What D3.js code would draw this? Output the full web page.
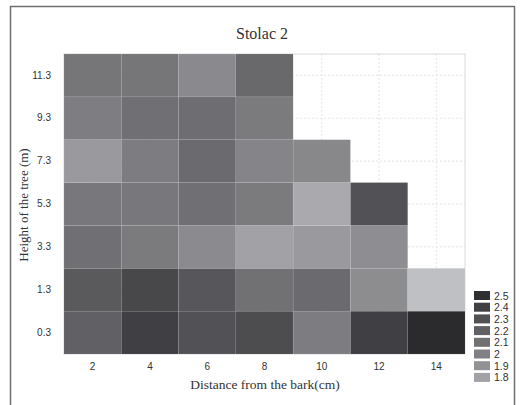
<!DOCTYPE html>
<html>
<head>
<meta charset="utf-8">
<script src="https://cdn.jsdelivr.net/npm/d3@7"></script>
<style>
  html, body { margin: 0; padding: 0; background: #fff; }
  svg { display: block; }
</style>
</head>
<body>
<svg id="chart" width="522" height="405"></svg>
<script>
// ---- data ----
const xCategories = [2, 4, 6, 8, 10, 12, 14];
const yCategories = ["0.3", "1.3", "3.3", "5.3", "7.3", "9.3", "11.3"];
// values per height row (same order as yCategories), null = no measurement
const row0_3  = [2.20, 2.40, 2.29, 2.32, 2.03, 2.40, 2.53];
const row1_3  = [2.24, 2.35, 2.26, 2.10, 2.14, 1.93, 1.62];
const row3_3  = [2.11, 2.04, 1.94, 1.80, 1.85, 1.92, null];
const row5_3  = [2.06, 2.06, 2.11, 2.04, 1.75, 2.29, null];
const row7_3  = [1.85, 2.03, 2.14, 1.98, 1.96, null, null];
const row9_3  = [2.02, 2.11, 2.12, 2.04, null, null, null];
const row11_3 = [2.07, 2.07, 1.95, 2.15, null, null, null];
const valueRows = [row0_3, row1_3, row3_3, row5_3, row7_3, row9_3, row11_3];
const legendValues = [2.5, 2.4, 2.3, 2.2, 2.1, 2.0, 1.9, 1.8];
const legendLabels = ["2.5", "2.4", "2.3", "2.2", "2.1", "2", "1.9", "1.8"];
const title = "Stolac 2";
const xLabel = "Distance from the bark(cm)";
const yLabel = "Height of the tree (m)";

// ---- build ----
const svg = d3.select("#chart");
const plot = { left: 64, right: 465, top: 54, bottom: 354 };

const x = d3.scaleBand().domain(xCategories).range([plot.left, plot.right]).padding(0);
const y = d3.scaleBand().domain(yCategories).range([plot.bottom, plot.top]).padding(0);
const color = d3.scaleLinear().domain([1.8, 2.5]).range(["#a2a2a6", "#302f32"]).interpolate(d3.interpolateRgb);

// outer frame
svg.append("rect")
  .attr("x", 10.5).attr("y", 6.5).attr("width", 504).attr("height", 420)
  .attr("fill", "none").attr("stroke", "#6f6f6f").attr("stroke-width", 1.5);

// gridlines
const grid = svg.append("g");
grid.selectAll("line.vx").data(xCategories).join("line")
  .attr("x1", d => x(d) + x.bandwidth() / 2).attr("x2", d => x(d) + x.bandwidth() / 2)
  .attr("y1", plot.top).attr("y2", plot.bottom)
  .attr("stroke", "#e4e4e4").attr("stroke-dasharray", "2,2").attr("stroke-width", 1);
grid.selectAll("line.hy").data(yCategories).join("line")
  .attr("y1", d => y(d) + y.bandwidth() / 2).attr("y2", d => y(d) + y.bandwidth() / 2)
  .attr("x1", plot.left).attr("x2", plot.right)
  .attr("stroke", "#e4e4e4").attr("stroke-dasharray", "2,2").attr("stroke-width", 1);

// plot border
svg.append("rect")
  .attr("x", plot.left).attr("y", plot.top)
  .attr("width", plot.right - plot.left).attr("height", plot.bottom - plot.top)
  .attr("fill", "none").attr("stroke", "#dadada").attr("stroke-width", 1);

// cells
const cells = [];
valueRows.forEach((row, i) => row.forEach((v, j) => {
  if (v !== null) cells.push({ x: xCategories[j], y: yCategories[i], v });
}));
svg.append("g").selectAll("rect").data(cells).join("rect")
  .attr("x", d => x(d.x)).attr("y", d => y(d.y))
  .attr("width", x.bandwidth()).attr("height", y.bandwidth())
  .attr("fill", d => color(d.v))
  .attr("stroke", "rgba(255,255,255,0.12)").attr("stroke-width", 0.6);

// axes
const xAxis = svg.append("g").attr("transform", `translate(0,${plot.bottom + 5})`)
  .call(d3.axisBottom(x).tickSize(0).tickPadding(4));
const yAxis = svg.append("g").attr("transform", `translate(${plot.left - 13},0)`)
  .call(d3.axisLeft(y).tickSize(0).tickPadding(0));
[xAxis, yAxis].forEach(a => {
  a.select(".domain").remove();
  a.selectAll("text").attr("font-family", "'Liberation Sans', Arial, sans-serif")
    .attr("font-size", 10).attr("fill", "#333");
});

// title & labels
svg.append("text").attr("x", 262).attr("y", 39).attr("text-anchor", "middle")
  .attr("font-family", "'Liberation Serif', 'Times New Roman', serif").attr("font-size", 16)
  .attr("fill", "#333").text(title);
svg.append("text").attr("x", 265).attr("y", 389).attr("text-anchor", "middle")
  .attr("font-family", "'Liberation Serif', 'Times New Roman', serif").attr("font-size", 13.5)
  .attr("fill", "#333").text(xLabel);
svg.append("text").attr("transform", "translate(28,205) rotate(-90)").attr("text-anchor", "middle")
  .attr("font-family", "'Liberation Serif', 'Times New Roman', serif").attr("font-size", 13)
  .attr("fill", "#333").text(yLabel);

// legend
const lg = svg.append("g").attr("transform", "translate(474,291)");
const items = lg.selectAll("g").data(legendValues).join("g")
  .attr("transform", (d, i) => `translate(0,${i * 11.7})`);
items.append("rect").attr("width", 16).attr("height", 9).attr("fill", d => color(d));
items.append("text").attr("x", 20).attr("y", 8.5)
  .attr("font-family", "'Liberation Sans', Arial, sans-serif").attr("font-size", 10.5)
  .attr("fill", "#333").text((d, i) => legendLabels[i]);
</script>
</body>
</html>
